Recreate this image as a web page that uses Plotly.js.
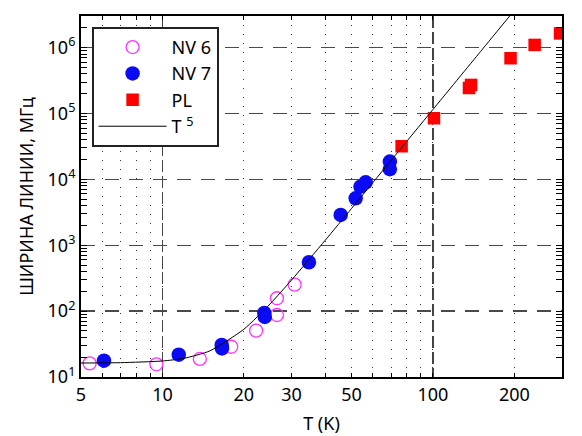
<!DOCTYPE html>
<html><head><meta charset="utf-8">
<script src="https://cdn.plot.ly/plotly-3.0.1.min.js"></script>
<style>html,body{margin:0;padding:0;background:#fff}#chart{width:582px;height:436px}</style>
</head><body><div id="chart"></div>
<script>
// NV 6 (open magenta circles)
const nv6T = [5.38, 9.50, 13.75, 17.96, 22.2, 26.5, 26.5, 30.8];
const nv6V = [16.1, 15.6, 18.8, 28.8, 50.5, 87.3, 156.7, 252];
// NV 7 (filled blue circles)
const nv7T = [6.08, 11.49, 16.56, 16.6, 23.8, 23.9, 34.8, 45.6, 51.8, 54.0, 56.4, 69.3, 69.3];
const nv7V = [17.7, 21.8, 30.6, 27.1, 93.7, 81.5, 552, 2884, 5160, 7740, 9030, 18600, 14260];
// PL (red squares)
const plT = [76.6, 100.9, 135.9, 138.3, 193.6, 237.7, 295];
const plV = [31850, 84700, 244000, 271600, 690000, 1099000, 1644000];
// T^5 curve
const fitT = [5, 7, 10, 12, 15, 20, 25, 30, 40, 50, 70, 100, 150, 200];
const fitV = [16.3, 16.5, 17.5, 19.2, 25.0, 53.1, 128.6, 295.8, 1194, 3610, 19344, 115000, 873000, 3680000];

const xTickVals = [5, 6, 7, 8, 9, 10, 20, 30, 40, 50, 60, 70, 80, 90, 100, 200, 300];
const xTickText = ['5', '', '', '', '', '10', '20', '30', '', '50', '', '', '', '', '100', '200', ''];
const xMajorGrid = [10, 100];
const yTickVals = [10, 100, 1e3, 1e4, 1e5, 1e6];
const yTickText = ['10<sup>1</sup>', '10<sup>2</sup>', '10<sup>3</sup>', '10<sup>4</sup>', '10<sup>5</sup>', '10<sup>6</sup>'];

const FONT = 'Noto Sans, Open Sans, DejaVu Sans, sans-serif';

const traces = [
  {x: nv6T, y: nv6V, type: 'scatter', mode: 'markers', name: 'NV 6', legendgroup: 'a',
   marker: {symbol: 'circle-open', size: 13, color: '#ff33ff', line: {width: 1.3, color: '#ff33ff'}}},
  {x: nv7T, y: nv7V, type: 'scatter', mode: 'markers', name: 'NV 7', legendgroup: 'b',
   marker: {symbol: 'circle', size: 14.5, color: '#0a0af5'}},
  {x: plT, y: plV, type: 'scatter', mode: 'markers', name: 'PL', legendgroup: 'c',
   marker: {symbol: 'square', size: 12.5, color: '#ff0000'}},
  {x: fitT, y: fitV, type: 'scatter', mode: 'lines', name: 'T <sup>5</sup>', legendgroup: 'd',
   xaxis: 'x2', line: {color: '#000', width: 1, shape: 'spline', smoothing: 0.6}}
];

const xr = [Math.log10(5), Math.log10(300)];
const layout = {
  width: 582, height: 436,
  margin: {l: 81, r: 20, t: 16, b: 59},
  paper_bgcolor: '#fff', plot_bgcolor: '#fff',
  font: {family: FONT, size: 18, color: '#000'},
  showlegend: true,
  legend: {x: 0.022, y: 0.970, xanchor: 'left', yanchor: 'top',
    bgcolor: '#fff', bordercolor: '#222', borderwidth: 2,
    font: {family: FONT, size: 18, color: '#000'}, tracegroupgap: 0, itemwidth: 68},
  xaxis: {type: 'log', range: xr, tickmode: 'array', tickvals: xTickVals, ticktext: xTickText,
    showgrid: true, gridcolor: '#333', gridwidth: 1, griddash: '1px,8px',
    showline: true, linecolor: '#000', linewidth: 2, mirror: 'allticks',
    ticks: 'inside', ticklen: 4, tickcolor: '#000', zeroline: false,
    tickfont: {family: FONT, size: 18},
    title: {text: 'T (K)', font: {family: FONT, size: 18}, standoff: 13}},
  xaxis2: {type: 'log', range: xr, overlaying: 'x', anchor: 'y', side: 'bottom',
    tickmode: 'array', tickvals: xMajorGrid, showticklabels: false, ticks: '',
    showgrid: true, gridcolor: '#444', gridwidth: 1.5, griddash: '12px,4px',
    showline: false, zeroline: false},
  yaxis: {type: 'log', range: [1, 6.48], tickmode: 'array', tickvals: yTickVals, ticktext: yTickText,
    showgrid: true, gridcolor: '#4a4a4a', gridwidth: 1.5, griddash: '14px,10px',
    showline: true, linecolor: '#000', linewidth: 2, mirror: 'allticks',
    ticks: 'inside', ticklen: 6, tickcolor: '#000', zeroline: false,
    minor: {dtick: 'D1', ticks: 'inside', ticklen: 3, tickcolor: '#000', showgrid: false},
    tickfont: {family: FONT, size: 18},
    title: {text: 'ШИРИНА ЛИНИИ, МГц', font: {family: FONT, size: 18}, standoff: 9}}
};

Plotly.newPlot('chart', traces, layout, {displayModeBar: false, staticPlot: true});
</script></body></html>
